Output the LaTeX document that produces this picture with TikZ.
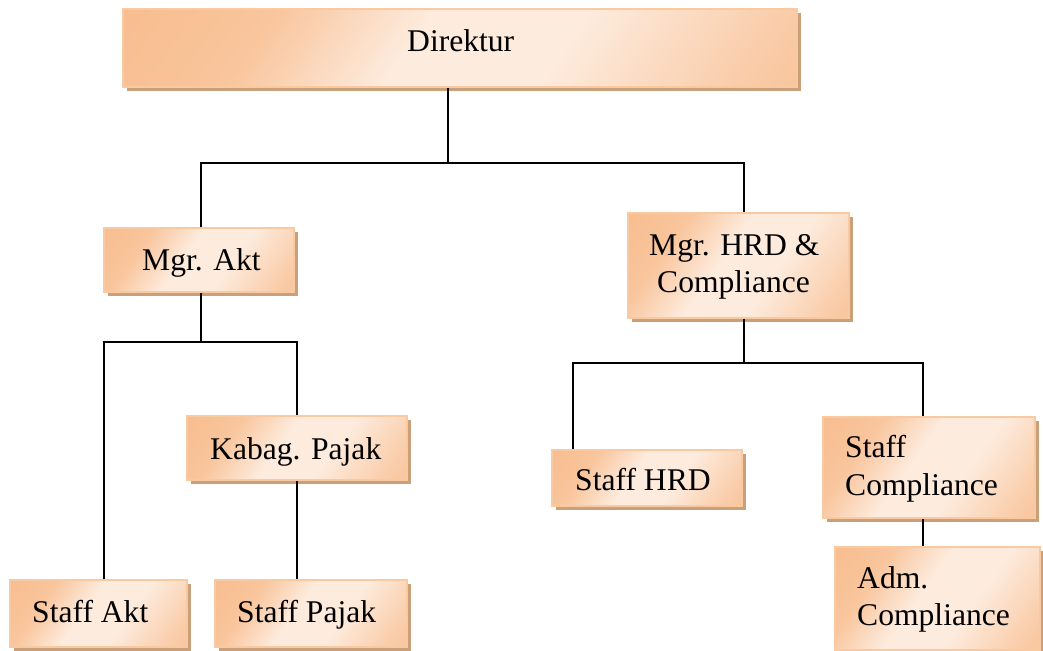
\documentclass[tikz,border=0pt]{standalone}
\usepackage{fontspec}
\setmainfont{Liberation Serif}
\usetikzlibrary{shadows}
\definecolor{orD}{HTML}{F7B581}
\definecolor{orL}{HTML}{FDEBDD}
\definecolor{shadc}{HTML}{C9A079}
\definecolor{edgec}{HTML}{F9C9A2}
\pgfdeclarehorizontalshading{boxshade}{100bp}{color(0bp)=(orD); color(30bp)=(orD!70!orL); color(45bp)=(orL); color(60bp)=(orL); color(80bp)=(orD!60!orL); color(100bp)=(orD)}
\tikzset{
  obox/.style={rectangle, draw=edgec, line width=1.2pt, shading=boxshade, shading angle=-35,
    general shadow={fill=shadc, shadow xshift=4pt, shadow yshift=-4pt}, inner sep=0pt},
  txt/.style={anchor=base west, inner sep=0pt, font=\fontsize{31.6}{37}\selectfont},
  conn/.style={draw=black, line width=1.4pt}
}
\newcommand{\boxat}[5]{% name, x1, y1, x2, y2
  \node[obox, minimum width={#4-#2}, minimum height={#5-#3}] (#1) at ({(#2+#4)/2},{(#3+#5)/2}) {};}
\begin{document}
\begin{tikzpicture}[x=1pt,y=-1pt]
\useasboundingbox (0,0) rectangle (1043,650);
\coordinate (j1) at (448,163);
\coordinate (b1l) at (201,163);
\coordinate (b1r) at (744,163);
\coordinate (j2) at (201,342);
\coordinate (b2l) at (104,342);
\coordinate (b2r) at (297,342);
\coordinate (j3) at (744,363);
\coordinate (b3l) at (573,363);
\coordinate (b3r) at (923,363);
% boxes
\boxat{dir}{123}{9}{797}{87}
\boxat{mgrakt}{104}{228}{294}{292}
\boxat{mgrhrd}{628}{213}{849}{318}
\boxat{kabag}{187}{416}{407}{480}
\boxat{shrd}{552}{450}{742}{506}
\boxat{scomp}{823}{417}{1035}{518}
\boxat{adm}{835}{547}{1040}{650}
\boxat{sakt}{10}{580}{187}{647}
\boxat{spajak}{215}{580}{407}{647}
% texts
\node[txt] (tdir) at (407,52) {Direktur};
\node[txt] (tmgrakt) at (142,270) {Mgr. Akt};
\node[txt] (tmgrhrd1) at (649,255) {Mgr. HRD \&};
\node[txt] (tmgrhrd2) at (657,292) {Compliance};
\node[txt] (tkabag) at (210,459) {Kabag. Pajak};
\node[txt] (tshrd) at (575,490) {Staff HRD};
\node[txt] (tscomp1) at (845,457) {Staff};
\node[txt] (tscomp2) at (845,495) {Compliance};
\node[txt] (tadm1) at (857,588) {Adm.};
\node[txt] (tadm2) at (857,625) {Compliance};
\node[txt] (tsakt) at (32,622) {Staff Akt};
\node[txt] (tspajak) at (237,622) {Staff Pajak};
% connectors
\draw[conn] (dir.south -| j1) -- (j1);
\draw[conn] (b1l |- mgrakt.north) -- (b1l) -- (b1r) -- (b1r |- mgrhrd.north);
\draw[conn] (mgrakt.south -| j2) -- (j2);
\draw[conn] (b2l |- sakt.north) -- (b2l) -- (b2r) -- (b2r |- kabag.north);
\draw[conn] (kabag.south -| b2r) -- (spajak.north -| b2r);
\draw[conn] (mgrhrd.south -| j3) -- (j3);
\draw[conn] (b3l |- shrd.north) -- (b3l) -- (b3r) -- (b3r |- scomp.north);
\draw[conn] (scomp.south -| b3r) -- (adm.north -| b3r);
\end{tikzpicture}
\end{document}
